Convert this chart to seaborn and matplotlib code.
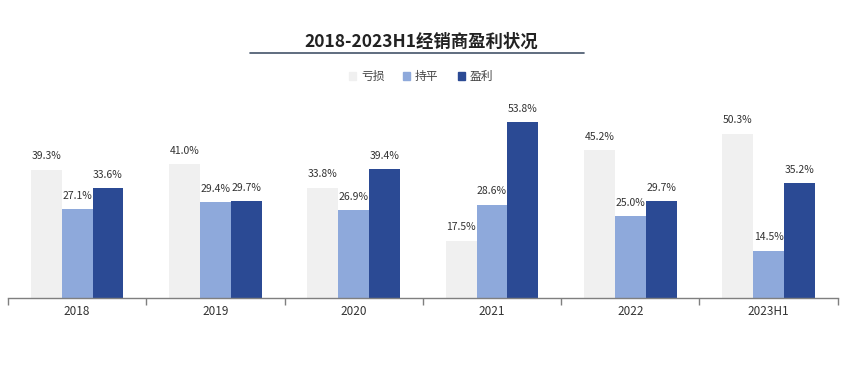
import numpy as np
import matplotlib.pyplot as plt
import matplotlib.lines as mlines
import seaborn as sns
import pandas as pd

years = ['2018', '2019', '2020', '2021', '2022', '2023H1']
loss = [39.3, 41.0, 33.8, 17.5, 45.2, 50.3]
even = [27.1, 29.4, 26.9, 28.6, 25.0, 14.5]
profit = [33.6, 29.7, 39.4, 53.8, 29.7, 35.2]
series = ['亏损', '持平', '盈利']
colors = ['#F0F0F0', '#8EA9DB', '#2B4A94']

df = pd.DataFrame({
    'year': years * 3,
    'value': loss + even + profit,
    'type': [series[0]] * 6 + [series[1]] * 6 + [series[2]] * 6,
})

sns.set_theme(style='white')
plt.rcParams['font.family'] = ['Noto Sans CJK SC', 'DejaVu Sans']

fig = plt.figure(figsize=(8.42, 3.66), dpi=100)
ax = fig.add_axes([0.0095, 0.186, 0.9855, 0.535])
sns.barplot(data=df, x='year', y='value', hue='type', palette=colors,
            width=0.67, saturation=1, ax=ax, legend=False,
            edgecolor='none', linewidth=0)

for cont in ax.containers:
    ax.bar_label(cont, labels=[f'{v:.1f}%' for v in cont.datavalues],
                 padding=6, fontsize=7.5, color='#333333')

ax.set_ylim(0, 60)
ax.set_xlim(-0.5, len(years) - 0.5)
ax.set_xlabel('')
ax.set_ylabel('')
ax.set_yticks([])
for s in ['top', 'right', 'left']:
    ax.spines[s].set_visible(False)
ax.spines['bottom'].set_color('#7F7F7F')
ax.spines['bottom'].set_linewidth(1)
ax.tick_params(axis='x', which='major', bottom=False, length=0, labelsize=8.5,
               colors='#333333', pad=5)
ax.set_xticks(np.arange(-0.5, len(years)), minor=True)
ax.tick_params(axis='x', which='minor', bottom=True, length=5,
               direction='out', color='#7F7F7F', width=1)

fig.text(0.5, 0.885, '2018-2023H1经销商盈利状况', ha='center', va='center',
         fontsize=12.5, fontweight='bold', color='#222222')
fig.add_artist(mlines.Line2D([0.297, 0.693], [0.855, 0.855], color='#44546A', lw=1.2))

handles = [plt.Rectangle((0, 0), 1, 1, color=c) for c in colors]
fig.legend(handles, series, loc='center', bbox_to_anchor=(0.5, 0.79), ncol=3,
           frameon=False, fontsize=8.5, handlelength=0.6, handleheight=0.6,
           handletextpad=0.4, columnspacing=1.6, labelcolor='#444444')

fig.savefig('out.png', dpi=100)
